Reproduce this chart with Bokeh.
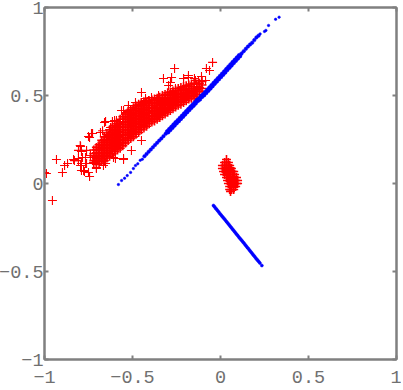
from bokeh.plotting import figure
from bokeh.models import LinearAxis, FixedTicker, Range1d
from bokeh.embed import file_html
from bokeh.resources import INLINE

ticks = [-1, -0.5, 0, 0.5, 1]
tick_labels = {-1: "\u22121", -0.5: "\u22120.5", 0: "0", 0.5: "0.5", 1: "1"}

stray_x = [-1.0,-.989,-.932,-.898,-.886,-.869,-.955,-.83,-.795,-.79,-.773,-.744,-.75,-.807,-.784,-.761,-.807,-.767,-.79,-.739,-.75,-.727,-.653,-.614,-.551,-.449,-.324,-.261,-.278,-.045,-.08,-.0625,-.085,-.705,-.653,-.551,-.722,-.693,-.523,-.483,-.409,-.284,-.21,-.182,-.148,-.108,-.125,-.67,-.591,-.636,
           -.797,-.79,-.807,-.835,-.778,-.767,-.795,-.761,-.733,-.744,-.659,-.625,-.682,-.602,-.5625,-.523,-.483,-.426,-.665,-.551,-.597,-.705,-.392,-.352,-.256,-.21,-.182,-.142,-.295,-.426,-.608,-.506,-.449]
stray_y = [.0625,.057,.136,.0625,.102,.114,-.097,.13,.21,.074,.068,.04,.0625,.13,.148,.188,.188,.114,.114,.159,.267,.284,.352,.352,.415,.517,.597,.653,.602,.688,.653,.642,.585,.085,.114,.136,.119,.159,.403,.443,.472,.574,.597,.614,.597,.608,.585,.30,.358,.273,
           .216,.182,.142,.136,.074,.148,.102,.114,.284,.261,.347,.318,.29,.358,.415,.443,.46,.483,.102,.142,.142,.091,.489,.5,.54,.597,.602,.585,.557,.472,.148,.1875,.244]

cloud_columns_x = [-.72,-.705,-.69,-.675,-.66,-.645,-.63,-.615,-.60,-.585,-.57,-.555,-.54,-.525,-.51,-.495,-.48,-.465,-.45,-.435,-.42,-.405,-.39,-.375,-.36,-.345,-.33,-.315,-.30,-.285,-.27,-.255,-.24,-.225,-.21,-.195,-.18,-.165,-.15,-.135,-.12,-.105]
cloud_columns_y = [
 [.115,.13,.15,.17,.19],
 [.11,.125,.14,.155,.175,.19,.205],
 [.115,.13,.145,.16,.175,.19,.205,.22],
 [.125,.14,.155,.17,.185,.20,.215,.23,.245],
 [.13,.145,.16,.175,.19,.205,.22,.235,.25,.265],
 [.145,.16,.175,.19,.205,.22,.235,.25,.265,.28],
 [.155,.17,.185,.20,.215,.23,.245,.26,.275,.29,.305],
 [.17,.185,.20,.215,.23,.245,.26,.275,.29,.305,.32],
 [.18,.195,.21,.225,.24,.255,.27,.285,.30,.315,.33],
 [.19,.205,.22,.235,.25,.265,.28,.295,.31,.325,.34],
 [.20,.215,.23,.245,.26,.275,.29,.305,.32,.335,.35,.365],
 [.215,.23,.245,.26,.275,.29,.305,.32,.335,.35,.365,.38],
 [.23,.245,.26,.275,.29,.305,.32,.335,.35,.365,.38,.395],
 [.245,.26,.275,.29,.305,.32,.335,.35,.365,.38,.395,.41],
 [.255,.27,.285,.30,.315,.33,.345,.36,.375,.39,.405,.42],
 [.265,.28,.295,.31,.325,.34,.355,.37,.385,.40,.415,.43],
 [.28,.295,.31,.325,.34,.355,.37,.385,.40,.415,.425,.44],
 [.29,.305,.32,.335,.35,.365,.38,.395,.41,.425,.44,.45],
 [.305,.32,.335,.35,.365,.38,.395,.41,.425,.44,.45,.46],
 [.315,.33,.345,.36,.375,.39,.405,.42,.435,.455,.465],
 [.325,.34,.355,.37,.385,.40,.415,.43,.445,.465],
 [.34,.355,.37,.385,.40,.415,.43,.445,.46,.47],
 [.35,.365,.38,.395,.41,.425,.44,.455,.475],
 [.355,.37,.385,.40,.415,.43,.445,.46,.48],
 [.365,.38,.395,.41,.425,.44,.455,.47,.485],
 [.375,.39,.405,.42,.435,.45,.465,.49],
 [.385,.40,.415,.43,.445,.46,.475,.50],
 [.395,.41,.425,.44,.455,.47,.485,.505],
 [.405,.42,.435,.45,.465,.48,.50,.515],
 [.415,.43,.445,.46,.475,.49,.505,.52],
 [.425,.44,.455,.47,.485,.50,.515,.525],
 [.435,.45,.465,.48,.495,.51,.53],
 [.445,.46,.475,.49,.505,.52,.54],
 [.45,.465,.48,.495,.51,.53,.545],
 [.46,.475,.49,.505,.52,.535,.55],
 [.47,.485,.50,.515,.53,.555],
 [.48,.495,.51,.525,.54,.56],
 [.485,.50,.515,.53,.55,.565],
 [.495,.51,.525,.54,.57],
 [.505,.52,.535,.55,.565],
 [.525,.545,.57],
 [.54,.56,.58],
]

blob_x = [.034,.023,.034,.045,.011,.023,.034,.045,.052,.011,.023,.034,.045,.057,.062,.017,.028,.04,.052,.068,.075,.023,.034,.045,.057,.068,.08,.034,.045,.057,.068,.08,.091,.04,.052,.063,.075,.086,.097,.045,.057,.068,.08,.091,.097,.052,.063,.075,.086,.052,.063,.075,.057]
blob_y = [.136,.119,.119,.119,.102,.102,.102,.102,.102,.085,.085,.085,.085,.085,.085,.068,.068,.068,.068,.068,.068,.051,.051,.051,.051,.051,.051,.034,.034,.034,.034,.034,.034,.017,.017,.017,.017,.017,.017,0,0,0,0,0,0,-.017,-.017,-.017,-.017,-.034,-.034,-.034,-.045]

band_end_x = [-.58,-.562,-.545,-.53,-.511,-.495,-.483,-.47,-.456,-.444,.225,.25,.258,.273,.313,.333]
band_end_y = [-.006,.017,.03,.045,.063,.085,.102,.112,.132,.138,.85,.864,.87,.898,.933,.945]
band_mid_x = [-.432,-.42,-.408,-.396,-.384,-.372,-.36,-.348,-.336,-.324,-.312,.12,.132,.144,.156,.168,.18,.192,.204,.216]
band_mid_y = [.155,.168,.181,.193,.206,.219,.231,.244,.256,.269,.282,.739,.752,.765,.778,.79,.80,.815,.83,.84]
band_x = [-.30,-.288,-.276,-.264,-.252,-.24,-.228,-.216,-.204,-.192,-.18,-.168,-.156,-.144,-.132,-.12,-.108,-.096,-.084,-.072,-.06,-.048,-.036,-.024,-.012,0,.012,.024,.036,.048,.06,.072,.084,.096,.108]
band_y = [.294,.307,.319,.332,.345,.357,.37,.382,.395,.408,.42,.433,.445,.458,.471,.48,.495,.504,.517,.53,.543,.556,.569,.582,.595,.608,.621,.634,.648,.661,.674,.687,.70,.713,.726]

tail_x = [-.04,-.028,-.016,-.004,.008,.02,.032,.044,.056,.068,.08,.092,.104,.116,.128,.14,.152,.164,.176,.188,.2,.212,.224,.235,-.034,-.022,-.01,.002,.014,.026,.038,.05,.062,.074,.086,.098,.11,.122,.134,.146,.158,.17,.182,.194,.206,.218]
tail_y = [-.125,-.14,-.155,-.17,-.185,-.199,-.214,-.229,-.244,-.259,-.274,-.289,-.304,-.318,-.333,-.348,-.363,-.378,-.393,-.408,-.423,-.437,-.452,-.466,-.132,-.147,-.162,-.177,-.192,-.206,-.221,-.236,-.251,-.266,-.281,-.296,-.311,-.325,-.34,-.355,-.37,-.385,-.4,-.415,-.43,-.444]

cloud_x = [x for x, ys in zip(cloud_columns_x, cloud_columns_y) for _ in ys]
cloud_y = [y for ys in cloud_columns_y for y in ys]

GREY = "#808080"
p = figure(width=403, height=390, frame_width=352, frame_height=352,
           x_range=Range1d(-1, 1), y_range=Range1d(-1, 1),
           x_axis_location=None, y_axis_location=None,
           output_backend="svg", toolbar_location=None,
           min_border_left=46, min_border_right=5, min_border_top=7, min_border_bottom=31,
           margin=(0, -8, -8, -4))
p.grid.visible = False
p.outline_line_color = GREY
p.outline_line_width = 2
p.background_fill_color = "white"

for side, labelled in (("left", True), ("below", True), ("right", False), ("above", False)):
    ax = LinearAxis(ticker=FixedTicker(ticks=ticks))
    ax.axis_line_color = GREY
    ax.axis_line_width = 2
    ax.major_tick_line_color = GREY
    ax.major_tick_line_width = 2
    ax.major_tick_in = 4
    ax.major_tick_out = 0
    ax.minor_tick_line_color = None
    if labelled:
        ax.major_label_overrides = tick_labels
        ax.major_label_text_font = "Liberation Mono"
        ax.major_label_text_font_size = "18.5px"
        ax.major_label_text_color = "#707070"
        ax.major_label_standoff = 1 if side == "left" else 11
    else:
        ax.major_label_text_font_size = "0px"
        ax.major_label_text_color = None
        ax.major_label_standoff = 0
    p.add_layout(ax, side)

p.scatter(stray_x, stray_y, marker="cross", size=9, line_color="#ff0000", line_width=1.1, fill_color=None)
for xs, ys in ((cloud_x, cloud_y), (blob_x, blob_y)):
    p.scatter(xs, ys, marker="cross", size=9, line_color="#ff0000", line_width=1.6, fill_color=None)
p.scatter(band_end_x, band_end_y, marker="circle", size=2.5, line_color="#0000ff", fill_color="#0000ff", line_width=0.5)
p.scatter(band_mid_x, band_mid_y, marker="circle", size=3.5, line_color="#0000ff", fill_color="#0000ff", line_width=0.5)
p.scatter(band_x, band_y, marker="circle", size=5, line_color="#0000ff", fill_color="#0000ff", line_width=0.5)
p.scatter(tail_x, tail_y, marker="circle", size=3, line_color="#0000ff", fill_color="#0000ff", line_width=0.5)

open("out.html", "w").write(file_html(p, INLINE))
